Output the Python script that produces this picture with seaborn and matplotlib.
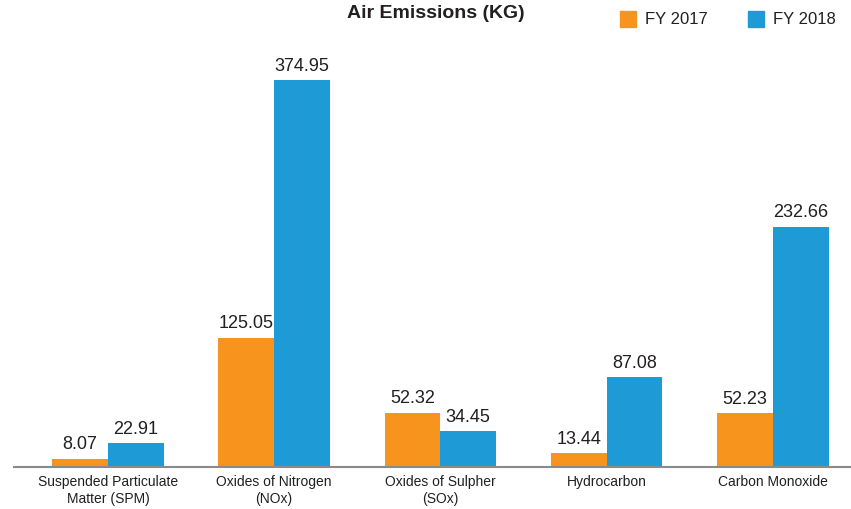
import pandas as pd
import matplotlib
matplotlib.use('Agg')
import matplotlib.pyplot as plt
import seaborn as sns

# 데이터
categories = ['Suspended Particulate\nMatter (SPM)', 'Oxides of Nitrogen\n(NOx)',
              'Oxides of Sulpher\n(SOx)', 'Hydrocarbon', 'Carbon Monoxide']
fy2017 = [8.07, 125.05, 52.32, 13.44, 52.23]
fy2018 = [22.91, 374.95, 34.45, 87.08, 232.66]
years = ['FY 2017', 'FY 2018']
colors = ['#F7941D', '#1E9BD7']

df = pd.DataFrame({
    'category': categories * 2,
    'year': [years[0]] * len(categories) + [years[1]] * len(categories),
    'value': fy2017 + fy2018,
})

sns.set_style('white')
plt.rcParams['font.family'] = ['Liberation Sans Narrow', 'Liberation Sans', 'DejaVu Sans']
text_color = '#231F20'

fig = plt.figure(figsize=(8.51, 5.09), dpi=100)
ax = fig.add_axes([14 / 851, 42 / 509, 837 / 851, 427 / 509])

sns.barplot(data=df, x='category', y='value', hue='year', palette=colors,
            width=0.67, saturation=1, linewidth=0, ax=ax, legend=False)

ax.set_xlim(-0.565, 4.47)
ax.set_ylim(0, 414)

# 값 라벨
for cont in ax.containers:
    ax.bar_label(cont, fmt='%.2f', padding=4, fontsize=13, color=text_color)

sns.despine(ax=ax, left=True)
ax.spines['bottom'].set_color('#8a8a8a')
ax.spines['bottom'].set_linewidth(1.5)
ax.set_yticks([])
ax.set_xlabel('')
ax.set_ylabel('')
ax.tick_params(axis='x', length=0, labelsize=10, colors=text_color, pad=6)

# 제목
fig.text(436 / 851, 1 - 14 / 509, 'Air Emissions (KG)', ha='center', va='center',
         fontsize=14, fontweight='bold', color=text_color)

# 범례
for i, (lab, col) in enumerate(zip(years, colors)):
    x0 = (620 + i * 128) / 851
    fig.patches.append(plt.Rectangle((x0, 1 - 27 / 509), 16 / 851, 16 / 509,
                                     transform=fig.transFigure, color=col))
    fig.text(x0 + 25 / 851, 1 - 19 / 509, lab, ha='left', va='center',
             fontsize=12, color=text_color)

fig.savefig('out.png', dpi=100)
